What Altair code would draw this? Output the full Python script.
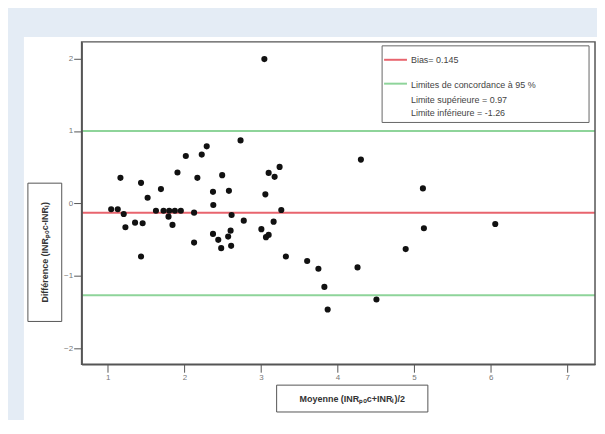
import altair as alt
import pandas as pd

# Data
moyenne = [1.044, 1.130, 1.208, 1.230, 1.165, 1.356, 1.455, 1.434, 1.520, 1.434,
           1.629, 1.694, 1.728, 1.793, 1.802, 1.876, 1.954, 1.845, 1.910, 2.019,
           2.127, 2.127, 2.170, 2.227, 2.292, 2.374, 2.378, 2.374, 2.443, 2.481,
           2.494, 2.572, 2.582, 2.604, 2.611, 2.617, 2.734, 2.776, 3.045, 3.006,
           3.058, 3.066, 3.101, 3.101, 3.166, 3.179, 3.244, 3.266, 3.326, 3.604,
           3.751, 3.829, 3.872, 4.262, 4.306, 4.509, 4.891, 5.116, 5.129, 6.061]
difference = [-0.082, -0.082, -0.147, -0.330, 0.352, -0.267, -0.275, 0.283, 0.077, -0.734,
              -0.102, 0.197, -0.102, -0.184, -0.102, -0.102, -0.102, -0.298, 0.426, 0.654,
              -0.129, -0.542, 0.352, 0.674, 0.788, 0.159, -0.023, -0.422, -0.504, -0.619,
              0.389, -0.459, 0.173, -0.377, -0.587, -0.161, 0.870, -0.239, 1.993, -0.357,
              0.124, -0.467, -0.436, 0.421, -0.253, 0.366, 0.503, -0.092, -0.734, -0.797,
              -0.903, -1.155, -1.467, -0.885, 0.605, -1.329, -0.632, 0.206, -0.344, -0.285]

line_names = ["bias", "upper", "lower"]
line_values = [-0.13, 1.0, -1.27]
line_colors = ["#e8646e", "#8ed49a", "#8ed49a"]

x_ticks = [1, 2, 3, 4, 5, 6, 7]
y_ticks = [-2, -1, 0, 1, 2]

legend_texts = ["Bias= 0.145", "Limites de concordance à 95 %",
                "Limite supérieure = 0.97", "Limite inférieure = -1.26"]
x_title = "Moyenne (INRₚₒc+INRₗ)/2"
y_title = "Différence (INRₚₒc-INRₗ)"

W, H = 516, 324
FONT = "Liberation Sans"

pts = pd.DataFrame({"m": moyenne, "d": difference})
lines = pd.DataFrame({"name": line_names, "v": line_values, "c": line_colors})
one = pd.DataFrame({"a": [0]})

xscale = alt.Scale(domain=[0.658, 7.364], nice=False, zero=False)
yscale = alt.Scale(domain=[-2.223, 2.231], nice=False, zero=False)

white_panel = alt.Chart(one).mark_rect(color="white").encode(
    x=alt.value(-58), x2=alt.value(W + 4), y=alt.value(-5), y2=alt.value(H + 80))

ref_lines = alt.Chart(lines).mark_rule(strokeWidth=2).encode(
    y=alt.Y("v:Q", scale=yscale),
    color=alt.Color("c:N", scale=None, legend=None))

axis_common = dict(title=None, grid=False, tickSize=8, labelFontSize=8, format="d",
                   labelColor="#777777", labelPadding=1, tickColor="#555555",
                   domainColor="#555555", domainWidth=1.5, labelFont=FONT, zindex=2)

points = alt.Chart(pts).mark_circle(size=38, color="#111111", opacity=1).encode(
    x=alt.X("m:Q", scale=xscale, axis=alt.Axis(values=x_ticks, **axis_common)),
    y=alt.Y("d:Q", scale=yscale, axis=alt.Axis(values=y_ticks, **axis_common)))

frame = alt.Chart(one).mark_rect(fill=None, stroke="#555555", strokeWidth=1.5).encode(
    x=alt.value(0), x2=alt.value(W), y=alt.value(0), y2=alt.value(H))

# manual legend box
legend_box = alt.Chart(one).mark_rect(fill="white", stroke="#666666", strokeWidth=1).encode(
    x=alt.value(302), x2=alt.value(510), y=alt.value(4), y2=alt.value(81))
leg_red = alt.Chart(one).mark_rule(color=line_colors[0], strokeWidth=2).encode(
    x=alt.value(304), x2=alt.value(327), y=alt.value(18))
leg_green = alt.Chart(one).mark_rule(color=line_colors[1], strokeWidth=2).encode(
    x=alt.value(304), x2=alt.value(327), y=alt.value(42))
leg_df = pd.DataFrame({"t": legend_texts, "yy": [18, 43, 58, 71]})
leg_text = alt.Chart(leg_df).mark_text(align="left", baseline="middle", fontSize=9,
                                       font=FONT, color="#444444").encode(
    x=alt.value(331), y=alt.Y("yy:Q", scale=None), text="t:N")

# boxed axis titles
xt_box = alt.Chart(one).mark_rect(fill="white", stroke="#555555", strokeWidth=1).encode(
    x=alt.value(196), x2=alt.value(348), y=alt.value(345), y2=alt.value(372))
xt_text = alt.Chart(pd.DataFrame({"t": [x_title]})).mark_text(
    fontSize=9, fontWeight="bold", font=FONT, color="#333333", baseline="middle").encode(
    x=alt.value(272), y=alt.value(358.5), text="t:N")
yt_box = alt.Chart(one).mark_rect(fill="white", stroke="#555555", strokeWidth=1).encode(
    x=alt.value(-54), x2=alt.value(-20), y=alt.value(142), y2=alt.value(281))
yt_text = alt.Chart(pd.DataFrame({"t": [y_title]})).mark_text(
    fontSize=9, fontWeight="bold", font=FONT, color="#333333", angle=270,
    baseline="middle").encode(
    x=alt.value(-37), y=alt.value(211.5), text="t:N")

chart = alt.layer(
    white_panel, ref_lines, points, frame, legend_box, leg_red, leg_green, leg_text,
    xt_box, xt_text, yt_box, yt_text
).properties(
    width=W, height=H, background="#e4ecf5",
    padding={"left": 74, "top": 33, "right": 2, "bottom": 55},
    autosize="none"
).configure_view(
    fill="white", stroke="#555555", strokeWidth=1.5
)

chart.save("out.html", embed_options={"renderer": "svg", "actions": False})
